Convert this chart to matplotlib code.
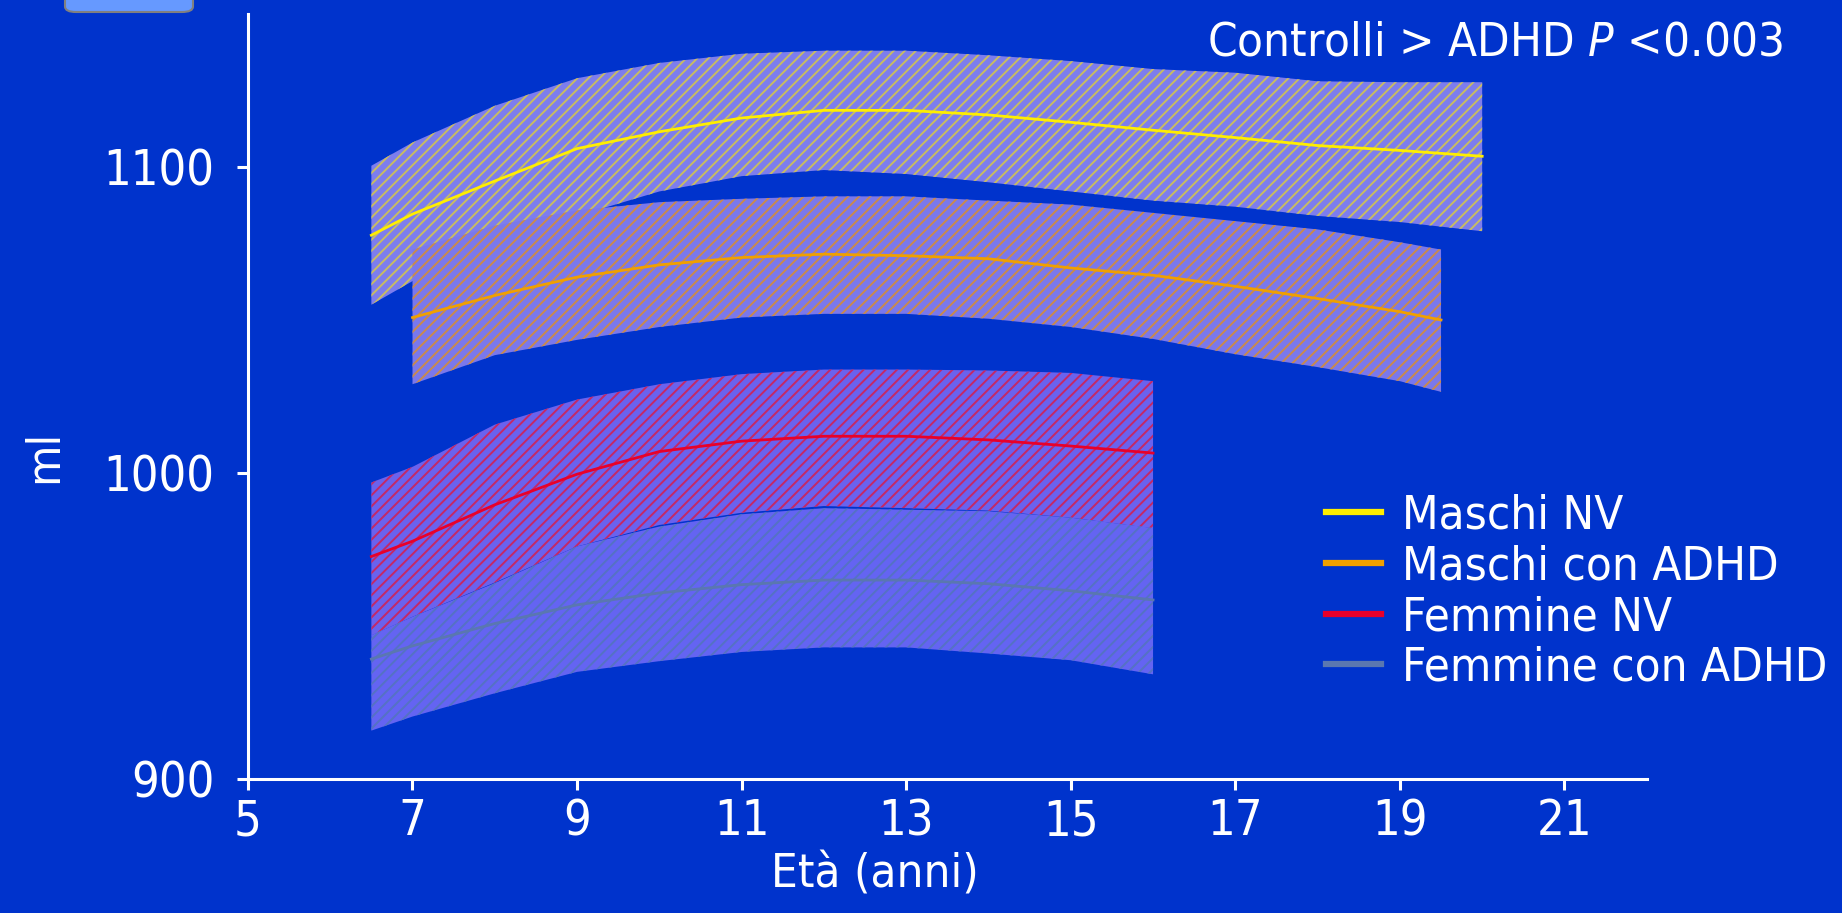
import matplotlib
matplotlib.use("Agg")
import matplotlib.pyplot as plt
from matplotlib.patches import FancyBboxPatch

# ---------------- data ----------------
age_mnv = [6.5, 7, 7.5, 8, 9, 10, 11, 12, 13, 14, 15, 16, 17, 18, 19, 20]
mnv_mid = [1077.7, 1084.6, 1090, 1095.4, 1106, 1111.5, 1116, 1118.5, 1118.5, 1117, 1114.6, 1112, 1109.6, 1107, 1105.4, 1103.5]
mnv_hi = [1100.4, 1108, 1114, 1120, 1129, 1134, 1137, 1138, 1138, 1136.5, 1134.6, 1132, 1130.8, 1128, 1127.7, 1127.7]
mnv_lo = [1055, 1062.7, 1068.5, 1073.5, 1084, 1092, 1097, 1099, 1097.7, 1095, 1092, 1089, 1087, 1084, 1082, 1079]

age_madhd = [7, 8, 9, 10, 11, 12, 13, 14, 15, 16, 17, 18, 19, 19.5]
madhd_mid = [1050.8, 1058, 1064, 1068, 1070.4, 1071.5, 1071, 1070, 1067, 1064.6, 1061, 1057, 1052.7, 1050]
madhd_hi = [1073, 1080.8, 1085.8, 1088.5, 1089.6, 1090.4, 1090.4, 1089, 1087.7, 1085, 1082.3, 1079.6, 1075.4, 1073]
madhd_lo = [1029, 1038.5, 1043.5, 1047.7, 1050.8, 1052, 1052, 1050.4, 1047.7, 1043.8, 1038.8, 1034.6, 1030, 1026.5]

age_f = [6.5, 7, 8, 9, 10, 11, 12, 13, 14, 15, 16]
fnv_mid = [972.7, 977.7, 989.6, 999.6, 1007, 1010.4, 1012, 1012, 1010.8, 1008.8, 1006.5]
fnv_hi = [996.9, 1002, 1015.8, 1024, 1029, 1032.3, 1033.8, 1033.8, 1033.5, 1032.7, 1030]
fnv_lo = [946.9, 953, 964.2, 976, 983, 987, 989.2, 988.5, 987.7, 985.4, 981.9]

fadhd_mid = [939.2, 943.5, 950.8, 956.9, 960.8, 963.5, 965, 965, 963.8, 961.5, 958.5]
fadhd_hi = [947, 953, 964, 976, 982.5, 986.5, 988.5, 988, 987.5, 985.4, 982]
fadhd_lo = [915.8, 920.4, 928, 935, 938.5, 941.5, 943, 943, 941, 938.8, 934.2]

labels = ["Maschi NV", "Maschi con ADHD", "Femmine NV", "Femmine con ADHD"]
xticks = [5, 7, 9, 11, 13, 15, 17, 19, 21]
yticks = [900, 1000, 1100]

# ---------------- style ----------------
plt.rcParams['font.family'] = ["DejaVu Sans"]
plt.rcParams['font.stretch'] = "condensed"
plt.rcParams['mathtext.fontset'] = 'custom'
plt.rcParams['mathtext.it'] = 'DejaVu Sans:italic'
plt.rcParams['mathtext.rm'] = 'DejaVu Sans'
plt.rcParams['hatch.linewidth'] = 1.4

BG = "#0033cc"
FS = 34
TFS = 35

fig = plt.figure(figsize=(18.42, 9.13), dpi=100, facecolor=BG)
ax = fig.add_axes([0.1346, 0.1468, 0.894 - 0.1346, 0.9847 - 0.1468])
ax.set_facecolor(BG)

series = [
    (age_mnv, mnv_mid, mnv_lo, mnv_hi, "#7d7dee", "#c8bc62", "#ffee00"),
    (age_madhd, madhd_mid, madhd_lo, madhd_hi, "#7a78ec", "#c98a4c", "#f0a000"),
    (age_f, fnv_mid, fnv_lo, fnv_hi, "#6a62ee", "#c42866", "#e8002a"),
    (age_f, fadhd_mid, fadhd_lo, fadhd_hi, "#6464f2", "#5572c4", "#5a77b0"),
]
for i, (x, m, lo, hi, face, hc, lc) in enumerate(series):
    ax.fill_between(x, lo, hi, facecolor=face, edgecolor=hc, hatch="///",
                    linewidth=0, zorder=2 + i)
for i, (x, m, lo, hi, face, hc, lc) in enumerate(series):
    ax.plot(x, m, color=lc, lw=2.0, zorder=10, label=labels[i])

ax.set_xlim(5, 22)
ax.set_ylim(900, 1150)
ax.set_xticks(xticks)
ax.set_yticks(yticks)
for s in ["top", "right"]:
    ax.spines[s].set_visible(False)
for s in ["left", "bottom"]:
    ax.spines[s].set_color("white")
    ax.spines[s].set_linewidth(2.2)
ax.tick_params(colors="white", labelsize=TFS, width=2.2, length=8, direction="out")
ax.tick_params(axis="y", pad=16)
ax.tick_params(axis="x", pad=5)

ax.set_xlabel("Età (anni)", color="white", fontsize=FS)
ax.xaxis.set_label_coords(0.448, -0.125)
ax.xaxis.label.set_va("center")
ax.set_ylabel("ml", color="white", fontsize=FS)
ax.yaxis.set_label_coords((45 - 248) / 1399, (779 - 456) / 765)
ax.yaxis.label.set_va("center")

fig.text(1783 / 1842, 1 - 56 / 913, "Controlli > ADHD $P$ <0.003", color="white",
         fontsize=FS, ha="right", va="baseline")

leg = ax.legend(loc="upper left", bbox_to_anchor=((1326 - 248) / 1399, (779 - 494) / 765),
                frameon=False, fontsize=FS, labelcolor="white", handlelength=1.17,
                handletextpad=0.45, labelspacing=0.12, borderaxespad=0, borderpad=0)
for h in leg.get_lines():
    h.set_linewidth(4.5)

box = FancyBboxPatch((65 / 1842, 1 - 12 / 913), 128 / 1842, 30 / 913,
                     boxstyle="round,pad=0,rounding_size=0.006", transform=fig.transFigure,
                     facecolor="#6699ff", edgecolor="#808080", linewidth=1.5, zorder=20)
fig.patches.append(box)

fig.savefig("out.png", dpi=100, facecolor=BG)
